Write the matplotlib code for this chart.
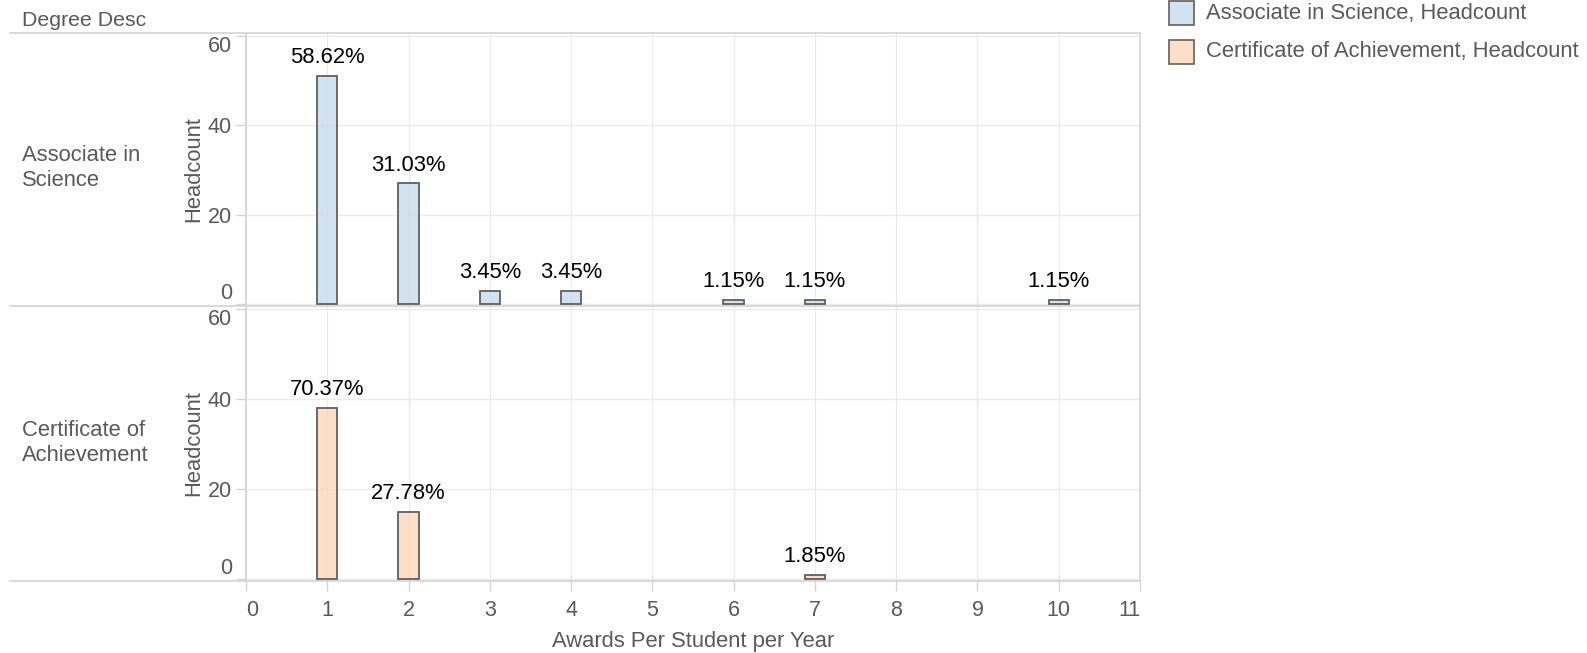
import matplotlib
matplotlib.use('Agg')
import matplotlib.pyplot as plt
from matplotlib.patches import Rectangle
from matplotlib.lines import Line2D

plt.rcParams['font.family'] = ['Liberation Sans', 'DejaVu Sans']

# ---- data ----
degree_labels = ['Associate in\nScience', 'Certificate of\nAchievement']
legend_labels = ['Associate in Science, Headcount', 'Certificate of Achievement, Headcount']
as_awards = [1, 2, 3, 4, 6, 7, 10]
as_headcount = [51, 27, 3, 3, 1, 1, 1]
as_pct = ['58.62%', '31.03%', '3.45%', '3.45%', '1.15%', '1.15%', '1.15%']
ca_awards = [1, 2, 7]
ca_headcount = [38, 15, 1]
ca_pct = ['70.37%', '27.78%', '1.85%']
x_ticks = list(range(0, 12))
y_ticks = [0, 20, 40, 60]

# ---- styling ----
W, H = 1587, 653
BLUE = '#c9dbec'
PEACH = '#fcd8b8'
EDGE = '#606060'
BORDER = '#d3d3d3'
GRID = '#ebebeb'
TXT = '#595959'
FS = 15.8
TFS = 15.5

fig = plt.figure(figsize=(W / 100, H / 100), dpi=100)


def fx(px):
    return px / W


def fy(py):
    return 1 - py / H


L, R = 246, 1140
T, M, B = 33, 306, 581
ax1 = fig.add_axes([fx(L), fy(M), fx(R - L), (M - T) / H])
ax2 = fig.add_axes([fx(L), fy(B), fx(R - L), (B - M) / H])

row_y = [168, 443]
panels = [
    (ax1, as_awards, as_headcount, as_pct, BLUE),
    (ax2, ca_awards, ca_headcount, ca_pct, PEACH),
]
for i, (ax, xs, ys, pcts, col) in enumerate(panels):
    ax.set_axisbelow(True)
    ax.bar(xs, ys, width=0.25, color=col, alpha=0.8, edgecolor='none', zorder=2)
    ax.bar(xs, ys, width=0.25, facecolor='none', edgecolor=EDGE, linewidth=1.3, zorder=3)
    for x, y, p in zip(xs, ys, pcts):
        ax.annotate(p, (x, y), xytext=(0, 5.5), textcoords='offset points',
                    ha='center', va='bottom', fontsize=FS, color='black')
    ax.set_xlim(0, 11)
    ax.set_ylim(-0.4, 60.6)
    ax.set_xticks(x_ticks)
    ax.set_yticks(y_ticks)
    ax.grid(True, color=GRID, linewidth=1.0)
    for s in ['top', 'bottom']:
        ax.spines[s].set_visible(False)
    for s in ['left', 'right']:
        ax.spines[s].set_color(BORDER)
        ax.spines[s].set_linewidth(1.2)
    ax.tick_params(axis='y', length=7, width=1, color=BORDER, pad=3,
                   labelsize=TFS, labelcolor=TXT)
    ax.set_yticklabels([str(v) for v in y_ticks])
    ylabs = ax.get_yticklabels()
    ylabs[0].set_va('bottom')
    ylabs[-1].set_va('top')
    ax.set_ylabel('Headcount', fontsize=FS, color=TXT, labelpad=3)
    fig.text(fx(22), fy(row_y[i]), degree_labels[i], fontsize=FS, color=TXT,
             ha='left', va='center', linespacing=1.2)

ax1.tick_params(axis='x', length=0, labelbottom=False)
ax2.tick_params(axis='x', length=7, width=1, color=BORDER, pad=7,
                labelsize=TFS, labelcolor=TXT)
ax2.set_xticklabels([str(v) for v in x_ticks])
xl = ax2.get_xticklabels()
xl[0].set_ha('left')
xl[-1].set_ha('right')
ax2.set_xlabel('Awards Per Student per Year', fontsize=FS, color=TXT, labelpad=7)

# header
fig.text(fx(22), fy(20), 'Degree Desc', fontsize=FS - 0.5, color=TXT, ha='left', va='center')

# borders across the whole table
for yy in [T, M, B]:
    fig.add_artist(Line2D([fx(10), fx(R)], [fy(yy), fy(yy)], color=BORDER,
                          linewidth=1.2, transform=fig.transFigure))

# legend
for j, (lab, col) in enumerate(zip(legend_labels, [BLUE, PEACH])):
    cy = 13 + 39 * j
    fig.add_artist(Rectangle((fx(1169), fy(cy + 12)), fx(25), 24 / H,
                             facecolor=col, alpha=0.8, edgecolor='none',
                             transform=fig.transFigure))
    fig.add_artist(Rectangle((fx(1169), fy(cy + 12)), fx(25), 24 / H,
                             facecolor='none', edgecolor=EDGE, linewidth=1.2,
                             transform=fig.transFigure))
    fig.text(fx(1206), fy(cy), lab, fontsize=FS, color=TXT, ha='left', va='center')

fig.savefig('out.png', dpi=100)
